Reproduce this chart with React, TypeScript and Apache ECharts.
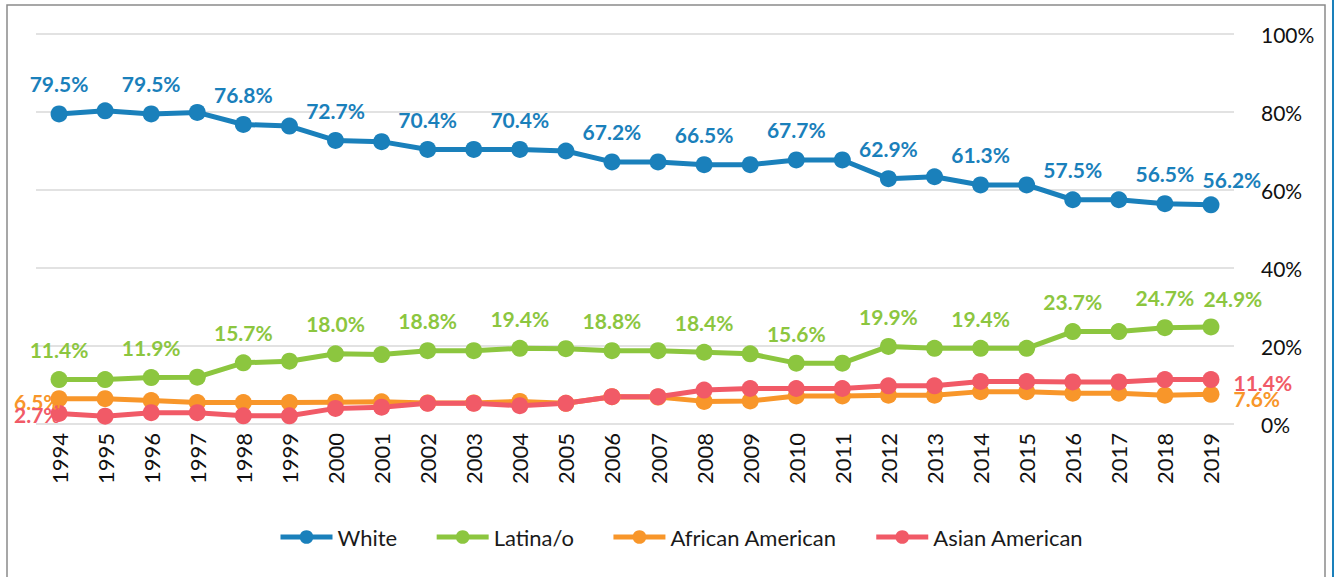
import React, { useEffect, useRef } from "react";
import * as echarts from "echarts";

const years = ["1994","1995","1996","1997","1998","1999","2000","2001","2002","2003","2004","2005","2006","2007","2008","2009","2010","2011","2012","2013","2014","2015","2016","2017","2018","2019"];
const white = [79.5, 80.3, 79.5, 79.9, 76.8, 76.4, 72.7, 72.4, 70.4, 70.4, 70.4, 70.0, 67.2, 67.2, 66.5, 66.5, 67.7, 67.7, 62.9, 63.4, 61.3, 61.3, 57.5, 57.5, 56.5, 56.2];
const latina = [11.4, 11.4, 11.9, 12.0, 15.7, 16.1, 18.0, 17.8, 18.8, 18.8, 19.4, 19.3, 18.8, 18.8, 18.4, 18.0, 15.6, 15.6, 19.9, 19.4, 19.4, 19.4, 23.7, 23.7, 24.7, 24.9];
const african = [6.5, 6.5, 6.0, 5.5, 5.5, 5.5, 5.6, 5.7, 5.4, 5.4, 5.8, 5.3, 7.0, 6.9, 5.8, 5.9, 7.2, 7.2, 7.4, 7.4, 8.3, 8.3, 7.9, 7.9, 7.4, 7.6];
const asian = [2.7, 2.0, 2.9, 2.9, 2.1, 2.1, 4.0, 4.3, 5.3, 5.3, 4.7, 5.3, 7.0, 7.0, 8.7, 9.1, 9.1, 9.1, 9.8, 9.8, 10.9, 10.9, 10.8, 10.8, 11.4, 11.4];
const yTicks = [0, 20, 40, 60, 80, 100];

const COLORS = { white: "#1A80BB", latina: "#8CC63F", african: "#F8962A", asian: "#F15A67" };
const FONT = "Lato, 'Noto Sans', sans-serif";

function topLabels(vals: number[], lastOffset: number[]) {
  return vals.map((v, i) => {
    const last = i === vals.length - 1;
    const show = i % 2 === 0 || last;
    return {
      value: v,
      label: {
        show,
        position: "top",
        distance: 11,
        offset: last ? lastOffset : [0, 0],
      },
    };
  });
}

function endLabels(vals: number[], leftOff: number[], rightOff: number[]) {
  return vals.map((v, i) => {
    const last = i === vals.length - 1;
    const first = i === 0;
    if (first) return { value: v, label: { show: true, position: "left", distance: 0, offset: leftOff } };
    if (last) return { value: v, label: { show: true, position: "right", distance: 14, offset: rightOff } };
    return { value: v, label: { show: false } };
  });
}

export default function App() {
  const ref = useRef<HTMLDivElement>(null);
  useEffect(() => {
    if (!ref.current) return;
    const chart = echarts.init(ref.current, undefined, { renderer: "svg" });
    const fmt = (p: any) => Number(p.value).toFixed(1) + "%";
    const mk = (name: string, color: string, data: any[]) => ({
      name,
      type: "line",
      data,
      symbol: "circle",
      symbolSize: 17,
      itemStyle: { color },
      lineStyle: { color, width: 5 },
      label: { color, fontFamily: FONT, fontWeight: "bold", fontSize: 21, formatter: fmt },
      emphasis: { disabled: true },
    });
    chart.setOption({
      animation: false,
      backgroundColor: "#ffffff",
      grid: { left: 36, right: 102, top: 34, bottom: 153 },
      legend: {
        bottom: 24,
        left: 273,
        itemWidth: 52,
        itemHeight: 17,
        itemGap: 37,
        lineStyle: { width: 5 },
        textStyle: { fontFamily: FONT, fontSize: 22, color: "#1a1a1a" },
        data: ["White", "Latina/o", "African American", "Asian American"],
      },
      xAxis: {
        type: "category",
        data: years,
        boundaryGap: true,
        axisLine: { show: false },
        axisTick: { show: false },
        axisLabel: { rotate: 90, interval: 0, margin: 9, fontFamily: FONT, fontSize: 22, color: "#111" },
      },
      yAxis: {
        type: "value",
        position: "right",
        min: yTicks[0],
        max: yTicks[yTicks.length - 1],
        interval: 20,
        axisLine: { show: false },
        axisTick: { show: false },
        axisLabel: { margin: 27, fontFamily: FONT, fontSize: 21, color: "#111", formatter: "{value}%" },
        splitLine: { lineStyle: { color: "#d9d9d9", width: 1.5 } },
      },
      graphic: [
        { type: "rect", shape: { x: 7, y: 5, width: 1318, height: 600 }, style: { fill: "none", stroke: "#8a8a8a", lineWidth: 1.5 }, silent: true },
        { type: "line", shape: { x1: 1333, y1: 0, x2: 1333, y2: 577 }, style: { stroke: "#1A80BB", lineWidth: 2 }, silent: true },
      ],
      series: [
        mk("White", COLORS.white, topLabels(white, [21, 5])),
        mk("Latina/o", COLORS.latina, topLabels(latina, [22, 2])),
        mk("African American", COLORS.african, endLabels(african, [10, 3], [0, 4])),
        mk("Asian American", COLORS.asian, endLabels(asian, [10, 1], [0, 3])),
      ],
    });
    return () => chart.dispose();
  }, []);
  return <div ref={ref} style={{ position: "absolute", left: 0, top: 0, width: 1336, height: 577 }} />;
}
